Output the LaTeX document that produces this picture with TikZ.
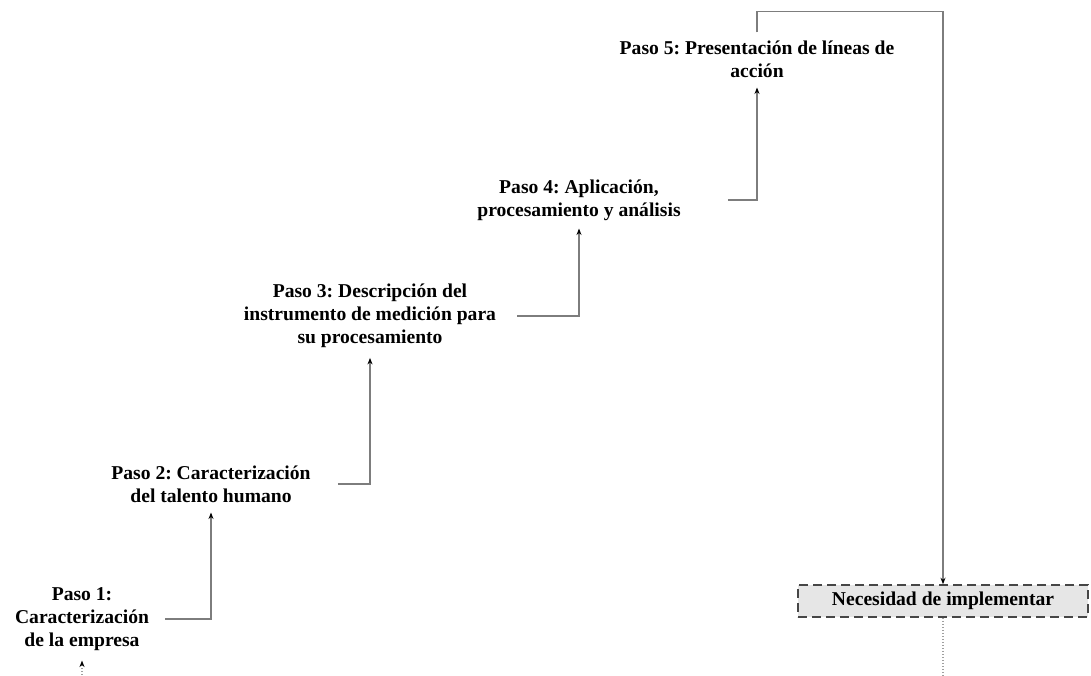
\documentclass[tikz,border=0pt]{standalone}
\usepackage{fontspec}
\setmainfont{Liberation Serif}
\usepackage{tikz}
\usetikzlibrary{arrows.meta,positioning}
\frenchspacing
\definecolor{lineagris}{RGB}{125,125,125}
\definecolor{puntogris}{RGB}{160,160,160}
\definecolor{cajagris}{RGB}{230,230,230}
\definecolor{bordegris}{RGB}{70,70,70}
\tikzset{
  paso/.style={align=center, inner sep=0pt, font=\fontsize{19.6}{22.8}\selectfont\bfseries},
  pline/.style={line width=1.1pt, lineagris},
  parrow/.style={pline, -{Stealth[length=6.5pt, width=5pt, color=black]}},
  pdots/.style={line width=1.1pt, puntogris, dash pattern=on 1.5pt off 1.5pt},
  pdotarrow/.style={pdots, -{Stealth[length=6.5pt, width=5pt, color=black]}},
  necbox/.style={rectangle, draw=bordegris, fill=cajagris, line width=1.6pt,
                 dash pattern=on 9pt off 5pt, minimum width=290pt, minimum height=32pt,
                 inner sep=0pt, font=\fontsize{19.6}{22.8}\selectfont\bfseries},
}
\begin{document}
\begin{tikzpicture}[x=1pt, y=-1pt, >=Stealth]
\useasboundingbox (0,0) rectangle (1091,675);
\node[paso] (p1) at (82, 619) {Paso 1:\\Caracterización\\de la empresa};
\node[paso] (p2) at (211, 484) {Paso 2: Caracterización\\del talento humano};
\node[paso] (p3) at (370, 316) {Paso 3: Descripción del\\instrumento de medición para\\su procesamiento};
\node[paso] (p4) at (579, 200) {Paso 4: Aplicación,\\procesamiento y análisis};
\node[paso] (p5) at (757, 59) {Paso 5: Presentación de líneas de\\acción};
\node[necbox] (nec) at (943, 601) {Necesidad de implementar};
\coordinate (entrada) at (82, 675);
\coordinate (salida) at (nec.south |- entrada);
\draw[pdotarrow] (entrada) -- ([yshift=-10pt]p1.south);
\draw[parrow] ([xshift=16pt]p1.east) -| ([yshift=-10pt]p2.south);
\draw[parrow] ([xshift=27pt]p2.east) -| ([yshift=-10pt]p3.south);
\draw[parrow] ([xshift=21pt]p3.east) -| ([yshift=-8pt]p4.south);
\draw[parrow] ([xshift=47pt]p4.east) -| ([yshift=-10pt]p5.south);
\draw[parrow] ([yshift=8pt]p5.north) -- ([yshift=29pt]p5.north) -| (nec.north);
\draw[pdots] (nec.south) -- (salida);
\end{tikzpicture}
\end{document}
